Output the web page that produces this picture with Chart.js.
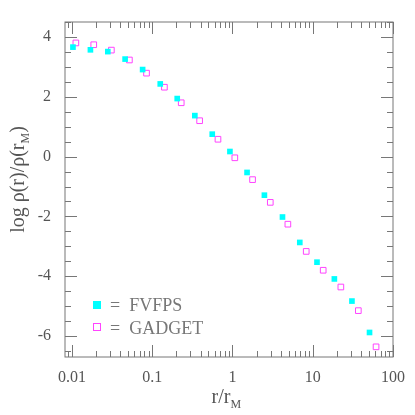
<!DOCTYPE html>
<html>
<head>
<meta charset="utf-8">
<script src="https://cdn.jsdelivr.net/npm/chart.js@4"></script>
<style>
  html, body { margin: 0; padding: 0; background: #fff; }
  #wrap { width: 415px; height: 415px; }
</style>
</head>
<body>
<div id="wrap"><canvas id="chart"></canvas></div>
<script>
// values
const fvfpsR = [0.0103, 0.017, 0.028, 0.046, 0.076, 0.126, 0.205, 0.34, 0.56, 0.93, 1.52, 2.5, 4.2, 6.9, 11.3, 18.6, 30.8, 51];
const fvfpsLogRho = [3.66, 3.57, 3.51, 3.26, 2.91, 2.43, 1.94, 1.37, 0.75, 0.17, -0.53, -1.29, -2.02, -2.87, -3.53, -4.09, -4.83, -5.88];
const gadgetR = [0.0112, 0.0187, 0.031, 0.052, 0.085, 0.142, 0.23, 0.39, 0.66, 1.07, 1.78, 2.96, 4.9, 8.3, 13.5, 22.4, 37, 61.5];
const gadgetLogRho = [3.80, 3.74, 3.56, 3.23, 2.79, 2.32, 1.80, 1.20, 0.58, -0.04, -0.77, -1.53, -2.26, -3.17, -3.80, -4.36, -5.15, -6.36];
const xTickLabels = ['0.01', '0.1', '1', '10', '100'];
const yTickLabels = ['-6', '-4', '-2', '0', '2', '4'];

const axisColor = '#777';
const serif = '"Liberation Serif", "DejaVu Serif", serif';

function toPoints(xs, ys) {
  return xs.map((x, i) => ({ x: x, y: ys[i] }));
}

const xMinor = [];
for (let e = -3; e <= 1; e++) {
  for (let m = 1; m <= 9; m++) xMinor.push(m * Math.pow(10, e));
}
xMinor.push(100);

// inward ticks on all four sides plus axis titles with subscripts
const framePlugin = {
  id: 'frame',
  afterDraw(chart) {
    const ctx = chart.ctx;
    const a = chart.chartArea;
    const xs = chart.scales.x, ys = chart.scales.y;
    ctx.save();
    ctx.strokeStyle = axisColor;
    ctx.lineWidth = 1;
    ctx.strokeRect(a.left, a.top, a.right - a.left, a.bottom - a.top);
    ctx.beginPath();
    xMinor.forEach(v => {
      if (v < xs.min || v > xs.max) return;
      const px = Math.round(xs.getPixelForValue(v)) + 0.5;
      const major = xTickLabels.includes(String(v));
      const len = major ? 12 : 6;
      ctx.moveTo(px, a.bottom); ctx.lineTo(px, a.bottom - len);
      ctx.moveTo(px, a.top); ctx.lineTo(px, a.top + len);
    });
    for (let v = -6.5; v <= 4.5; v += 0.5) {
      const py = Math.round(ys.getPixelForValue(v)) + 0.5;
      const major = yTickLabels.includes(String(v));
      const len = major ? 12 : 6;
      ctx.moveTo(a.left, py); ctx.lineTo(a.left + len, py);
      ctx.moveTo(a.right, py); ctx.lineTo(a.right - len, py);
    }
    ctx.stroke();

    ctx.fillStyle = '#555';
    ctx.textBaseline = 'alphabetic';
    // x title
    ctx.font = '20px ' + serif;
    ctx.textAlign = 'left';
    const xt = 'r/r';
    const w = ctx.measureText(xt).width;
    const cx = (a.left + a.right) / 2 - 8;
    ctx.fillText(xt, cx - w / 2, 403);
    ctx.font = '12px ' + serif;
    ctx.fillText('M', cx + w / 2, 408);
    // y title
    ctx.save();
    ctx.translate(24, (a.top + a.bottom) / 2);
    ctx.rotate(-Math.PI / 2);
    ctx.font = '20px ' + serif;
    const t1 = 'log \u03c1(r)/\u03c1(r';
    const w1 = ctx.measureText(t1).width;
    ctx.font = '12px ' + serif;
    const wm = ctx.measureText('M').width;
    ctx.font = '20px ' + serif;
    const total = w1 + wm + ctx.measureText(')').width;
    let sx = -total / 2 + 10;
    ctx.fillText(t1, sx, 0);
    ctx.font = '12px ' + serif;
    ctx.fillText('M', sx + w1, 5);
    ctx.font = '20px ' + serif;
    ctx.fillText(')', sx + w1 + wm, 0);
    ctx.restore();

    // legend
    ctx.font = '18px ' + serif;
    ctx.fillStyle = '#777';
    ctx.fillStyle = '#00ffff';
    ctx.fillRect(93, 301, 8, 8);
    ctx.strokeStyle = '#ff44ff';
    ctx.strokeRect(93.5, 323.5, 7, 7);
    ctx.fillStyle = '#777';
    ctx.fillText('=  FVFPS', 110, 311);
    ctx.fillText('=  GADGET', 110, 334);
    ctx.restore();
  }
};

new Chart(document.getElementById('chart'), {
  type: 'scatter',
  data: {
    datasets: [
      {
        label: 'FVFPS',
        data: toPoints(fvfpsR, fvfpsLogRho),
        pointStyle: 'rect',
        pointRadius: 4,
        backgroundColor: '#00ffff',
        borderColor: '#00ffff',
        borderWidth: 0
      },
      {
        label: 'GADGET',
        data: toPoints(gadgetR, gadgetLogRho),
        pointStyle: 'rect',
        pointRadius: 4,
        backgroundColor: 'rgba(0,0,0,0)',
        borderColor: '#ff44ff',
        borderWidth: 1
      }
    ]
  },
  options: {
    responsive: true,
    maintainAspectRatio: false,
    animation: false,
    layout: { padding: { top: 22, right: 22, left: 0, bottom: 0 } },
    plugins: { legend: { display: false }, tooltip: { enabled: false } },
    scales: {
      x: {
        type: 'logarithmic',
        min: 0.0082,
        max: 100,
        afterBuildTicks(scale) {
          scale.ticks = xTickLabels.map(v => ({ value: Number(v) }));
        },
        afterFit(scale) { scale.height = 58; },
        ticks: {
          color: '#555',
          font: { family: serif, size: 16 },
          maxRotation: 0,
          callback: v => xTickLabels.find(t => Number(t) === v) || ''
        },
        grid: { display: false },
        border: { display: false }
      },
      y: {
        min: -6.7,
        max: 4.5,
        afterBuildTicks(scale) {
          scale.ticks = yTickLabels.map(v => ({ value: Number(v) }));
        },
        afterFit(scale) { scale.width = 65; },
        ticks: {
          color: '#555',
          font: { family: serif, size: 16 },
          padding: 6
        },
        grid: { display: false },
        border: { display: false }
      }
    }
  },
  plugins: [framePlugin]
});
</script>
</body>
</html>
